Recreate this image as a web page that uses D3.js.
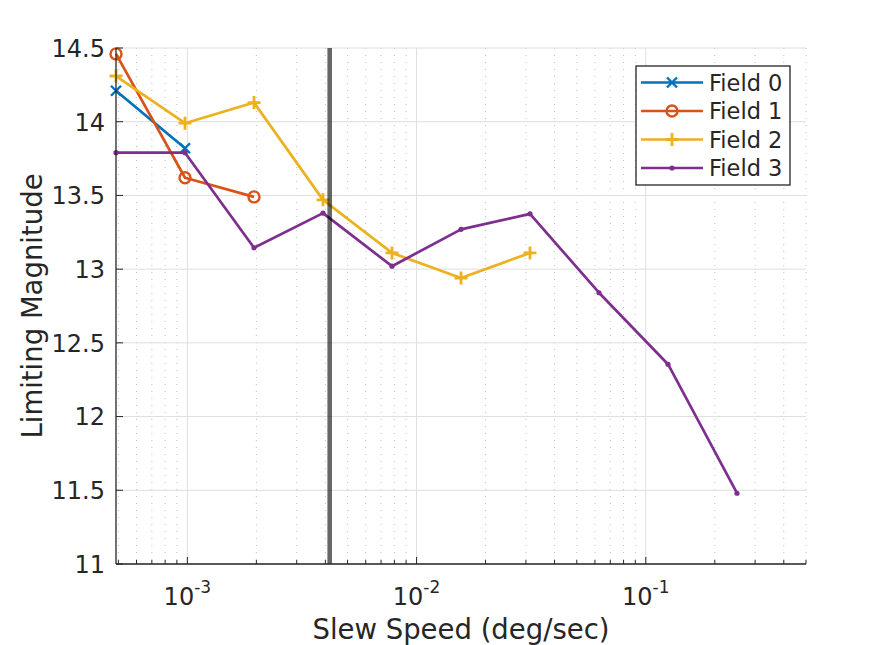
<!DOCTYPE html>
<html lang="en">
<head>
    <meta charset="UTF-8">
    <title>Limiting Magnitude vs Slew Speed</title>
    <script src="https://d3js.org/d3.v7.min.js"></script>
    <style>
        body { margin: 0; background: #fff; }
        text { font-family: "DejaVu Sans", sans-serif; fill: #262626; }
    </style>
</head>
<body>
    <div id="chart"></div>
    <script>
        // slew speeds (deg/sec)
        var speeds = [0.00048828125, 0.0009765625, 0.001953125, 0.00390625, 0.0078125,
                      0.015625, 0.03125, 0.0625, 0.125, 0.25];
        var field0 = [14.21, 13.82];
        var field1 = [14.46, 13.62, 13.49];
        var field2 = [14.31, 13.99, 14.13, 13.47, 13.11, 12.94, 13.11];
        var field3 = [13.79, 13.79, 13.145, 13.38, 13.02, 13.27, 13.375, 12.84, 12.355, 11.48];
        var seriesNames = ["Field 0", "Field 1", "Field 2", "Field 3"];
        var seriesColors = ["#0072BD", "#D95319", "#EDB120", "#7E2F8E"];
        var seriesMarkers = ["x", "o", "+", "."];
        var yTicks = [11, 11.5, 12, 12.5, 13, 13.5, 14, 14.5];
        var xDecades = [-3, -2, -1];
        var siderealRate = 0.004178;

        (function(){
        var width = 891, height = 645;
        var pLeft = 116, pRight = 806, pTop = 48, pBottom = 564;

        var svg = d3.select("#chart").append("svg")
            .attr("width", width)
            .attr("height", height);

        svg.append("rect").attr("width", width).attr("height", height).attr("fill", "#fff");

        var x = d3.scaleLog().domain([0.00048828125, 0.5]).range([pLeft, pRight]);
        var y = d3.scaleLinear().domain([11, 14.5]).range([pBottom, pTop]);

        // minor/major positions on the log axis
        var majorX = [], minorX = [];
        [-4, -3, -2, -1].forEach(function(e){
            for (var m = 1; m <= 9; m++) {
                var v = m * Math.pow(10, e);
                if (v < x.domain()[0] * 0.999 || v > x.domain()[1] * 1.001) continue;
                if (m === 1) majorX.push(v); else minorX.push(v);
            }
        });

        var grid = svg.append("g");
        grid.selectAll(".minor").data(minorX).enter().append("line")
            .attr("x1", function(d){ return x(d); }).attr("x2", function(d){ return x(d); })
            .attr("y1", pTop).attr("y2", pBottom)
            .attr("stroke", "#bdbdbd").attr("stroke-width", 1)
            .attr("stroke-dasharray", "1,6");
        grid.selectAll(".major").data(majorX).enter().append("line")
            .attr("x1", function(d){ return x(d); }).attr("x2", function(d){ return x(d); })
            .attr("y1", pTop).attr("y2", pBottom)
            .attr("stroke", "#dedede").attr("stroke-width", 1);
        grid.selectAll(".hgrid").data(yTicks).enter().append("line")
            .attr("x1", pLeft).attr("x2", pRight)
            .attr("y1", function(d){ return y(d); }).attr("y2", function(d){ return y(d); })
            .attr("stroke", "#dedede").attr("stroke-width", 1);

        function drawMarker(g, type, cx, cy, col) {
            if (type === "x") {
                var s = 5;
                g.append("path")
                    .attr("d", "M" + (cx - s) + "," + (cy - s) + "L" + (cx + s) + "," + (cy + s) +
                               "M" + (cx - s) + "," + (cy + s) + "L" + (cx + s) + "," + (cy - s))
                    .attr("stroke", col).attr("stroke-width", 2.4).attr("fill", "none");
            } else if (type === "o") {
                g.append("circle").attr("cx", cx).attr("cy", cy).attr("r", 5.5)
                    .attr("stroke", col).attr("stroke-width", 2.4).attr("fill", "none");
            } else if (type === "+") {
                var p = 6.5;
                g.append("path")
                    .attr("d", "M" + (cx - p) + "," + cy + "L" + (cx + p) + "," + cy +
                               "M" + cx + "," + (cy - p) + "L" + cx + "," + (cy + p))
                    .attr("stroke", col).attr("stroke-width", 2.8).attr("fill", "none");
            } else {
                g.append("circle").attr("cx", cx).attr("cy", cy).attr("r", 2.6).attr("fill", col);
            }
        }

        // data lines
        var allSeries = [field0, field1, field2, field3];
        var line = d3.line()
            .x(function(d){ return x(d[0]); })
            .y(function(d){ return y(d[1]); });

        allSeries.forEach(function(vals, i){
            var pts = vals.map(function(v, j){ return [speeds[j], v]; });
            var col = seriesColors[i];
            var g = svg.append("g");
            g.append("path").datum(pts)
                .attr("d", line)
                .attr("fill", "none")
                .attr("stroke", col)
                .attr("stroke-width", 2.7)
                .attr("stroke-linejoin", "round");
            pts.forEach(function(p){
                drawMarker(g, seriesMarkers[i], x(p[0]), y(p[1]), col);
            });
        });

        // sidereal rate marker
        svg.append("line")
            .attr("x1", x(siderealRate)).attr("x2", x(siderealRate))
            .attr("y1", pTop).attr("y2", pBottom)
            .attr("stroke", "#000").attr("stroke-opacity", 0.6)
            .attr("stroke-width", 4.6);

        // axes (box off, ticks inward)
        var axes = svg.append("g");
        axes.append("line").attr("x1", pLeft).attr("x2", pRight).attr("y1", pBottom).attr("y2", pBottom)
            .attr("stroke", "#262626").attr("stroke-width", 1.3);
        axes.append("line").attr("x1", pLeft).attr("x2", pLeft).attr("y1", pTop).attr("y2", pBottom)
            .attr("stroke", "#262626").attr("stroke-width", 1.3);

        axes.selectAll(".xmin").data(minorX).enter().append("line")
            .attr("x1", function(d){ return x(d); }).attr("x2", function(d){ return x(d); })
            .attr("y1", pBottom).attr("y2", pBottom - 4)
            .attr("stroke", "#262626");
        axes.selectAll(".xmaj").data(majorX).enter().append("line")
            .attr("x1", function(d){ return x(d); }).attr("x2", function(d){ return x(d); })
            .attr("y1", pBottom).attr("y2", pBottom - 7)
            .attr("stroke", "#262626");
        axes.selectAll(".ytk").data(yTicks).enter().append("line")
            .attr("x1", pLeft).attr("x2", pLeft + 7)
            .attr("y1", function(d){ return y(d); }).attr("y2", function(d){ return y(d); })
            .attr("stroke", "#262626");

        // y tick labels
        axes.selectAll(".ylab").data(yTicks).enter().append("text")
            .attr("x", pLeft - 11)
            .attr("y", function(d){ return y(d) + 8.8; })
            .attr("text-anchor", "end")
            .attr("font-size", 24)
            .text(function(d){ return d; });

        // x tick labels 10^e
        xDecades.forEach(function(e){
            var t = axes.append("text")
                .attr("x", x(Math.pow(10, e)))
                .attr("y", 605)
                .attr("text-anchor", "middle")
                .attr("font-size", 24);
            t.append("tspan").text("10");
            t.append("tspan").attr("font-size", 17).attr("dy", -12).text(e);
        });

        svg.append("text")
            .attr("x", (pLeft + pRight) / 2).attr("y", 639)
            .attr("text-anchor", "middle")
            .attr("font-size", 27.5)
            .text("Slew Speed (deg/sec)");

        svg.append("text")
            .attr("transform", "translate(42," + ((pTop + pBottom) / 2) + ") rotate(-90)")
            .attr("text-anchor", "middle")
            .attr("font-size", 27.5)
            .text("Limiting Magnitude");

        // legend
        var lg = svg.append("g");
        lg.append("rect").attr("x", 636).attr("y", 66).attr("width", 154).attr("height", 119)
            .attr("fill", "#fff").attr("stroke", "#262626").attr("stroke-width", 1.3);
        seriesNames.forEach(function(name, i){
            var ly = 82.5 + i * 28.5;
            lg.append("line").attr("x1", 641).attr("x2", 703).attr("y1", ly).attr("y2", ly)
                .attr("stroke", seriesColors[i]).attr("stroke-width", 2.7);
            drawMarker(lg, seriesMarkers[i], 672, ly, seriesColors[i]);
            lg.append("text").attr("x", 709).attr("y", ly + 8)
                .attr("font-size", 22.5)
                .text(name);
        });
        })();
    </script>
</body>
</html>
